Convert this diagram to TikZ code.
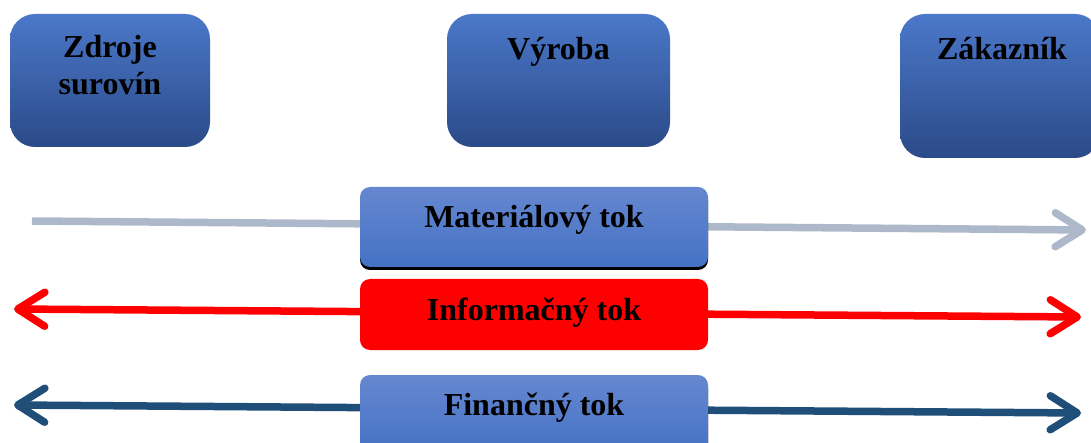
\documentclass[tikz,border=0pt]{standalone}
\usepackage{fontspec}
\setmainfont{Liberation Serif}
\usetikzlibrary{arrows.meta,shadows}

\definecolor{flowgray}{HTML}{ADB9CA}
\definecolor{flowred}{HTML}{FF0000}
\definecolor{flowblue}{HTML}{1F4E79}
\definecolor{topA}{HTML}{4B78C9}
\definecolor{topB}{HTML}{3F69B4}
\definecolor{topC}{HTML}{2B4A88}
\definecolor{midA}{HTML}{6687D0}
\definecolor{midB}{HTML}{4472C4}

\tikzset{
  stagebox/.style={rounded corners=25pt, top color=topA, middle color=topB, bottom color=topC,
    draw=none, inner sep=0pt},
  flowbox/.style={rounded corners=10pt, top color=midA, bottom color=midB, draw=none, inner sep=0pt,
    drop shadow={shadow xshift=0pt, shadow yshift=-3pt, fill=black, opacity=1}},
  redbox/.style={rounded corners=10pt, fill=flowred, draw=none, inner sep=0pt},
  boxtext/.style={font=\bfseries\fontsize{32}{37}\selectfont, anchor=base, inner sep=0pt, align=center},
  flowline/.style={line width=7.5pt, line cap=butt},
  barb/.tip={Straight Barb[length=27pt,width=34pt,round]},
  tipR/.style={-barb},
  tipLR/.style={barb-barb},
}

\begin{document}
\begin{tikzpicture}[x=1pt,y=-1pt]
  \useasboundingbox (0,0) rectangle (1091,443);
  \clip (0,0) rectangle (1091,443);

  % end points of the three flows
  \coordinate (gL) at (32,221);
  \coordinate (gR) at (1086,230);
  \coordinate (rL) at (14,309);
  \coordinate (rR) at (1081,317);
  \coordinate (bL) at (14,405);
  \coordinate (bR) at (1081,413);

  % flows (drawn first, the flow boxes sit on top)
  \draw[flowline, draw=flowgray, tipR] (gL) -- (gR);
  \draw[flowline, draw=flowred, tipLR] (rL) -- (rR);
  \draw[flowline, draw=flowblue, tipLR] (bL) -- (bR);

  % stages of the chain
  \node[stagebox, minimum width=200pt, minimum height=133pt] (src) at (110,80.5) {};
  \node[stagebox, minimum width=223pt, minimum height=133pt] (prod) at (558.5,80.5) {};
  \node[stagebox, minimum width=200pt, minimum height=144pt] (cust) at (1000,86) {};

  % multi-line node: base anchor sits on its last line
  \node[boxtext] (srcT) at (110,95) {Zdroje\\surovín};
  \node[boxtext] (prodT) at (558.5,60) {Výroba};
  \node[boxtext] (custT) at (1002,60) {Zákazník};

  % flow labels
  \node[flowbox, minimum width=348pt, minimum height=80pt] (mat) at (534,227) {};
  \node[redbox, minimum width=348pt, minimum height=71pt] (inf) at (534,314.5) {};
  \node[flowbox, minimum width=348pt, minimum height=80pt] (fin) at (534,415) {};

  \node[boxtext] (matT) at (534,228) {Materiálový tok};
  \node[boxtext] (infT) at (534,320) {Informačný tok};
  \node[boxtext] (finT) at (534,415) {Finančný tok};
\end{tikzpicture}
\end{document}
